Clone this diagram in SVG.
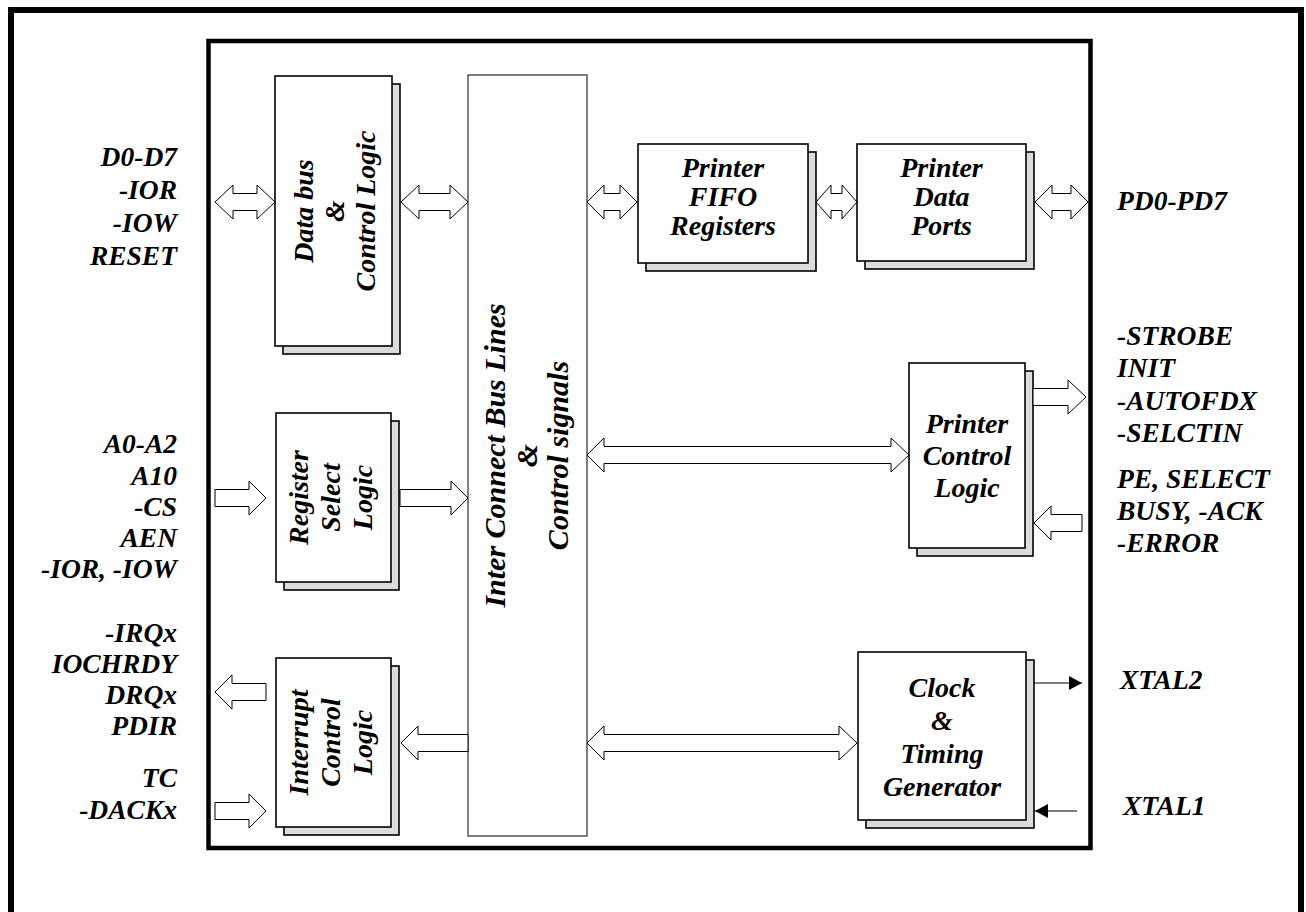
<svg xmlns="http://www.w3.org/2000/svg" width="1306" height="912" viewBox="0 0 1306 912">
<style>
.frame{fill:none;stroke:#000}
.box{fill:#fff;stroke:#000;stroke-width:1.6}
.sh{fill:#dcdcdc;stroke:#000;stroke-width:1.6}
.bus{fill:#fff;stroke:#555;stroke-width:1.5}
.arr{fill:#fff;stroke:#000;stroke-width:1}
.ln{fill:none;stroke:#000;stroke-width:1}
text{font-family:"Liberation Serif","Times New Roman",serif;font-weight:bold;font-style:italic;fill:#000}
.lbl{font-size:27.5px}
.bt{font-size:28px;text-anchor:middle}
.big{font-size:30px}
.r{text-anchor:end}
</style>
<defs>
<marker id="ah" markerWidth="14" markerHeight="14" refX="13" refY="7" orient="auto" markerUnits="userSpaceOnUse">
<path d="M0,0 L13,7 L0,14 Z" fill="#000"/>
</marker>
</defs>
<rect width="1306" height="912" fill="#fff"/>
<rect class="frame" x="11" y="10" width="1290" height="930" stroke-width="6"/>
<rect class="frame" x="208.5" y="41" width="882" height="807" stroke-width="4.5"/>

<g id="databus">
<rect class="sh" x="283" y="84" width="117" height="270"/>
<rect class="box" x="275" y="76" width="117" height="270"/>
<g transform="translate(333.5,211) rotate(-90)">
<text class="bt" x="0" y="-21">Data bus</text>
<text class="bt" x="0" y="10">&amp;</text>
<text class="bt" x="0" y="41">Control Logic</text>
</g>
</g>

<g id="icb">
<rect class="bus" x="468" y="75" width="119" height="761"/>
<g transform="translate(527.5,455.5) rotate(-90)">
<text class="bt big" x="0" y="-23">Inter Connect Bus Lines</text>
<text class="bt big" x="0" y="9">&amp;</text>
<text class="bt big" x="0" y="40">Control signals</text>
</g>
</g>

<g id="fifo">
<rect class="sh" x="646" y="152" width="170" height="119"/>
<rect class="box" x="638" y="144" width="170" height="119"/>
<text class="bt" x="723" y="177">Printer</text>
<text class="bt" x="723" y="206">FIFO</text>
<text class="bt" x="723" y="235">Registers</text>
</g>

<g id="dataports">
<rect class="sh" x="865" y="152" width="169" height="117"/>
<rect class="box" x="857" y="144" width="169" height="117"/>
<text class="bt" x="941.5" y="177">Printer</text>
<text class="bt" x="941.5" y="206">Data</text>
<text class="bt" x="941.5" y="235">Ports</text>
</g>

<g id="printerctrl">
<rect class="sh" x="917" y="371" width="116" height="185"/>
<rect class="box" x="909" y="363" width="116" height="185"/>
<text class="bt" x="967" y="433">Printer</text>
<text class="bt" x="967" y="465">Control</text>
<text class="bt" x="967" y="497">Logic</text>
</g>

<g id="regsel">
<rect class="sh" x="284" y="421" width="115" height="169"/>
<rect class="box" x="276" y="413" width="115" height="169"/>
<g transform="translate(333.5,497.5) rotate(-90)">
<text class="bt" x="0" y="-26">Register</text>
<text class="bt" x="0" y="6">Select</text>
<text class="bt" x="0" y="38">Logic</text>
</g>
</g>

<g id="interrupt">
<rect class="sh" x="284" y="666" width="115" height="169"/>
<rect class="box" x="276" y="658" width="115" height="169"/>
<g transform="translate(333.5,742.5) rotate(-90)">
<text class="bt" x="0" y="-26">Interrupt</text>
<text class="bt" x="0" y="6">Control</text>
<text class="bt" x="0" y="38">Logic</text>
</g>
</g>

<g id="clock">
<rect class="sh" x="866" y="660" width="168" height="168"/>
<rect class="box" x="858" y="652" width="168" height="168"/>
<text class="bt" x="942" y="697">Clock</text>
<text class="bt" x="942" y="730">&amp;</text>
<text class="bt" x="942" y="763">Timing</text>
<text class="bt" x="942" y="796">Generator</text>
</g>

<g id="connectors">
<path class="arr" d="M215,202 L233,185 L233,193.5 L257,193.5 L257,185 L275,202 L257,219 L257,210.5 L233,210.5 L233,219 Z"/>
<path class="arr" d="M401,202 L419,185 L419,193.5 L450,193.5 L450,185 L468,202 L450,219 L450,210.5 L419,210.5 L419,219 Z"/>
<path class="arr" d="M587,202 L604,185 L604,193.5 L620,193.5 L620,185 L637,202 L620,219 L620,210.5 L604,210.5 L604,219 Z"/>
<path class="arr" d="M816,202 L831,185 L831,193.5 L842,193.5 L842,185 L857,202 L842,219 L842,210.5 L831,210.5 L831,219 Z"/>
<path class="arr" d="M1035,202 L1052,185 L1052,193.5 L1071,193.5 L1071,185 L1088,202 L1071,219 L1071,210.5 L1052,210.5 L1052,219 Z"/>
<path class="arr" d="M587,455 L604,438 L604,446.5 L891,446.5 L891,438 L909,455 L891,472 L891,463.5 L604,463.5 L604,472 Z"/>
<path class="arr" d="M587,743 L604,726 L604,734.5 L839,734.5 L839,726 L857,743 L839,760 L839,751.5 L604,751.5 L604,760 Z"/>
<path class="arr" d="M215,489.5 L249,489.5 L249,481 L266,498 L249,515 L249,506.5 L215,506.5 Z"/>
<path class="arr" d="M400,489.5 L451,489.5 L451,481 L468,498 L451,515 L451,506.5 L400,506.5 Z"/>
<path class="arr" d="M1033,388.5 L1068,388.5 L1068,380 L1086,397 L1068,414 L1068,405.5 L1033,405.5 Z"/>
<path class="arr" d="M1082,514.5 L1051,514.5 L1051,506 L1034,523 L1051,540 L1051,531.5 L1082,531.5 Z"/>
<path class="arr" d="M266,683.5 L232,683.5 L232,675 L215,692 L232,709 L232,700.5 L266,700.5 Z"/>
<path class="arr" d="M468,734.5 L418,734.5 L418,726 L401,743 L418,760 L418,751.5 L468,751.5 Z"/>
<path class="arr" d="M215,802.5 L249,802.5 L249,794 L266,811 L249,828 L249,819.5 L215,819.5 Z"/>
<line class="ln" x1="1034" y1="683" x2="1082" y2="683" marker-end="url(#ah)"/>
<line class="ln" x1="1077" y1="811" x2="1035" y2="811" marker-end="url(#ah)"/>
</g>

<g id="labels-left">
<text class="lbl r" x="177" y="166">D0-D7</text>
<text class="lbl r" x="177" y="199">-IOR</text>
<text class="lbl r" x="177" y="232">-IOW</text>
<text class="lbl r" x="177" y="265">RESET</text>
<text class="lbl r" x="177" y="453">A0-A2</text>
<text class="lbl r" x="177" y="485">A10</text>
<text class="lbl r" x="177" y="516">-CS</text>
<text class="lbl r" x="177" y="547">AEN</text>
<text class="lbl r" x="177" y="578">-IOR, -IOW</text>
<text class="lbl r" x="177" y="642">-IRQx</text>
<text class="lbl r" x="177" y="673">IOCHRDY</text>
<text class="lbl r" x="177" y="704">DRQx</text>
<text class="lbl r" x="177" y="735">PDIR</text>
<text class="lbl r" x="177" y="787">TC</text>
<text class="lbl r" x="177" y="819">-DACKx</text>
</g>

<g id="labels-right">
<text class="lbl" x="1117" y="210">PD0-PD7</text>
<text class="lbl" x="1117" y="345">-STROBE</text>
<text class="lbl" x="1117" y="377">INIT</text>
<text class="lbl" x="1117" y="410">-AUTOFDX</text>
<text class="lbl" x="1117" y="442">-SELCTIN</text>
<text class="lbl" x="1117" y="488">PE, SELECT</text>
<text class="lbl" x="1117" y="520">BUSY, -ACK</text>
<text class="lbl" x="1117" y="552">-ERROR</text>
<text class="lbl" x="1120" y="689">XTAL2</text>
<text class="lbl" x="1123" y="815">XTAL1</text>
</g>
</svg>
